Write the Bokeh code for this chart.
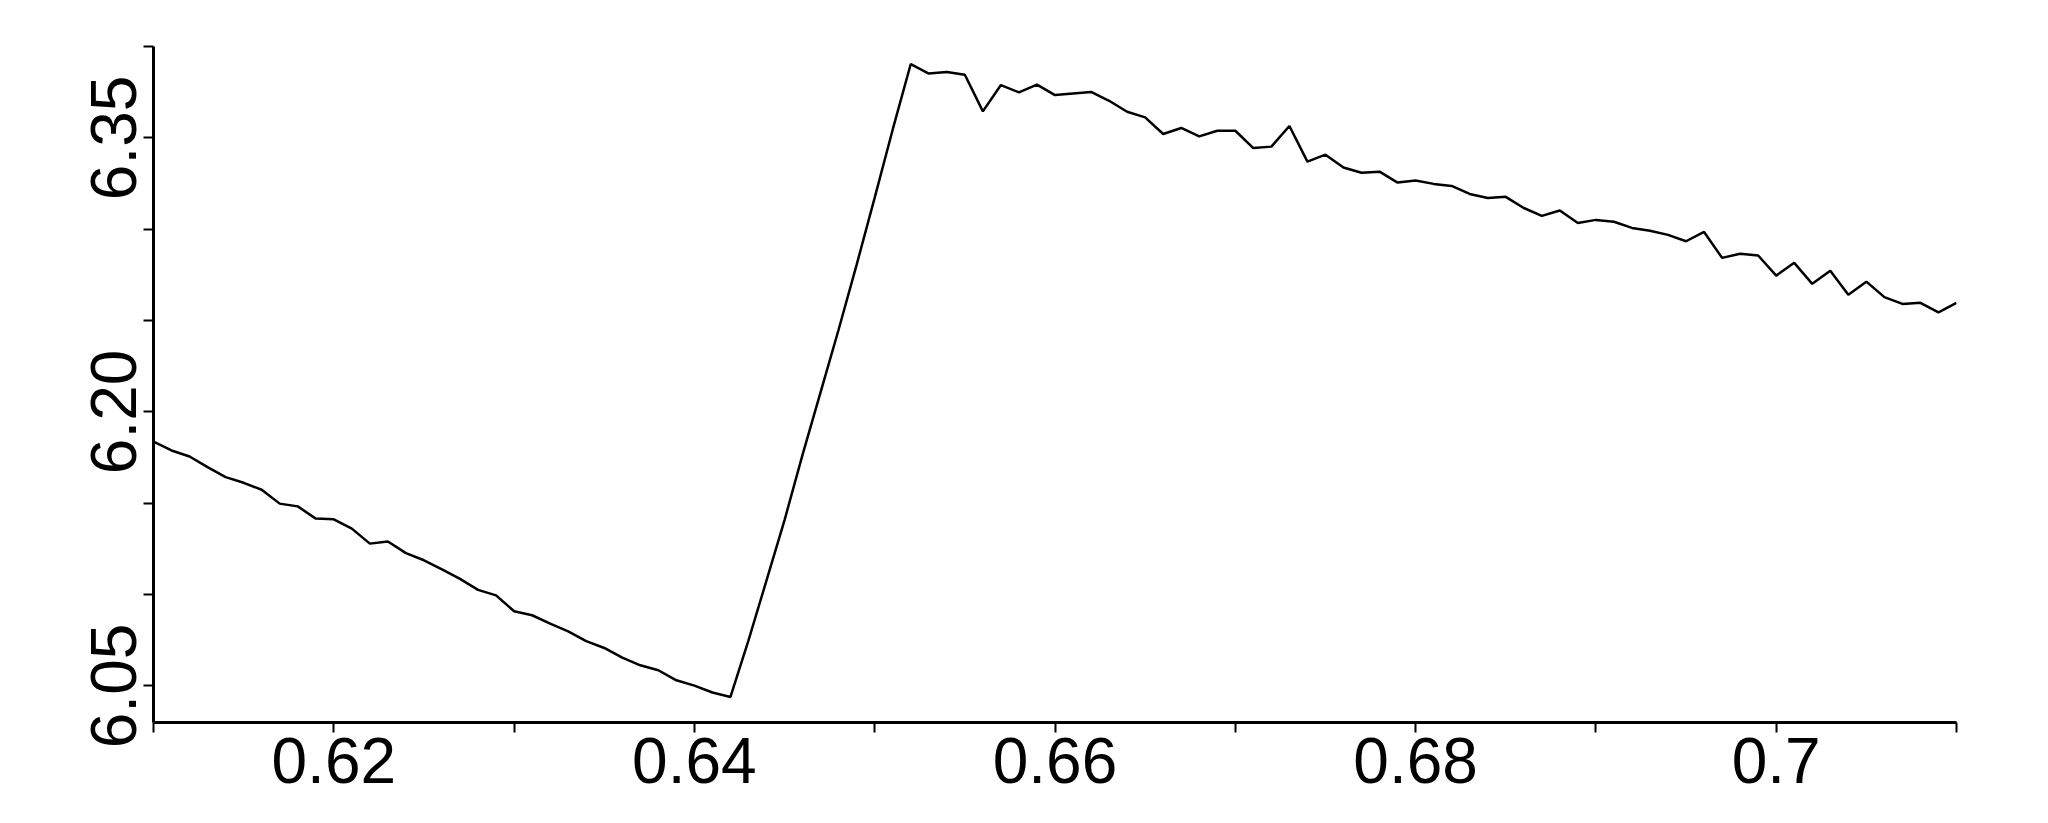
from bokeh.plotting import figure
from bokeh.models import Range1d, FixedTicker, CustomJSTickFormatter
from bokeh.embed import file_html
from bokeh.resources import INLINE

# ---- data ----
x_vals = [
    0.610, 0.611, 0.612, 0.613, 0.614, 0.615, 0.616, 0.617, 0.618, 0.619,
    0.620, 0.621, 0.622, 0.623, 0.624, 0.625, 0.626, 0.627, 0.628, 0.629,
    0.630, 0.631, 0.632, 0.633, 0.634, 0.635, 0.636, 0.637, 0.638, 0.639,
    0.640, 0.641, 0.642, 0.643, 0.644, 0.645, 0.646, 0.647, 0.648, 0.649,
    0.650, 0.651, 0.652, 0.653, 0.654, 0.655, 0.656, 0.657, 0.658, 0.659,
    0.660, 0.661, 0.662, 0.663, 0.664, 0.665, 0.666, 0.667, 0.668, 0.669,
    0.670, 0.671, 0.672, 0.673, 0.674, 0.675, 0.676, 0.677, 0.678, 0.679,
    0.680, 0.681, 0.682, 0.683, 0.684, 0.685, 0.686, 0.687, 0.688, 0.689,
    0.690, 0.691, 0.692, 0.693, 0.694, 0.695, 0.696, 0.697, 0.698, 0.699,
    0.700, 0.701, 0.702, 0.703, 0.704, 0.705, 0.706, 0.707, 0.708, 0.709,
    0.710,
]
y_vals = [
    6.1838, 6.1789, 6.1756, 6.1698, 6.1643, 6.1612, 6.1574, 6.1498, 6.1483, 6.1416,
    6.1412, 6.1361, 6.1279, 6.1291, 6.1227, 6.1188, 6.1138, 6.1086, 6.1026, 6.0996,
    6.0909, 6.0887, 6.0841, 6.0799, 6.0745, 6.0708, 6.0655, 6.0613, 6.0586, 6.0531,
    6.0502, 6.0464, 6.0440, 6.0750, 6.1078, 6.1408, 6.1766, 6.2108, 6.2451, 6.2806,
    6.3173, 6.3546, 6.3904, 6.3852, 6.3860, 6.3845, 6.3645, 6.3789, 6.3749, 6.3791,
    6.3734, 6.3743, 6.3751, 6.3703, 6.3643, 6.3612, 6.3521, 6.3554, 6.3508, 6.3539,
    6.3539, 6.3444, 6.3452, 6.3565, 6.3370, 6.3408, 6.3338, 6.3309, 6.3315, 6.3255,
    6.3266, 6.3248, 6.3237, 6.3193, 6.3171, 6.3177, 6.3116, 6.3073, 6.3102, 6.3034,
    6.3051, 6.3041, 6.3007, 6.2992, 6.2969, 6.2934, 6.2985, 6.2843, 6.2866, 6.2856,
    6.2746, 6.2816, 6.2701, 6.2772, 6.2641, 6.2713, 6.2628, 6.2591, 6.2597, 6.2545,
    6.2597,
]

x_major_ticks = [0.62, 0.64, 0.66, 0.68, 0.70]
x_minor_ticks = [0.61, 0.63, 0.65, 0.67, 0.69, 0.71]
y_major_ticks = [6.05, 6.20, 6.35]
y_minor_ticks = [6.10, 6.15, 6.25, 6.30, 6.40]

FONT = "Liberation Sans"

p = figure(
    width=2032, height=815,
    x_range=Range1d(0.61, 0.71), y_range=Range1d(6.03, 6.40),
    output_backend="svg", toolbar_location=None,
    min_border_left=153, min_border_right=76,
    min_border_top=46, min_border_bottom=93,
)
p.grid.visible = False
p.outline_line_color = None
p.background_fill_color = "white"
p.border_fill_color = "white"

p.line(x_vals, y_vals, line_color="black", line_width=2.5)

p.xaxis.ticker = FixedTicker(ticks=x_major_ticks, minor_ticks=x_minor_ticks)
p.yaxis.ticker = FixedTicker(ticks=y_major_ticks, minor_ticks=y_minor_ticks)
p.xaxis.formatter = CustomJSTickFormatter(code="return String(Math.round(tick*100)/100);")
p.yaxis.formatter = CustomJSTickFormatter(code="return tick.toFixed(2);")

for ax in (p.xaxis[0], p.yaxis[0]):
    ax.axis_line_color = "black"
    ax.axis_line_width = 3
    ax.major_tick_line_color = "black"
    ax.minor_tick_line_color = "black"
    ax.major_tick_line_width = 2
    ax.minor_tick_line_width = 2
    ax.major_tick_out = 10
    ax.major_tick_in = 0
    ax.minor_tick_out = 10
    ax.minor_tick_in = 0
    ax.major_label_text_font = FONT
    ax.major_label_text_font_size = "64px"
    ax.major_label_text_color = "black"

p.xaxis.major_label_standoff = 5
p.yaxis.major_label_standoff = 7
p.yaxis.major_label_orientation = "vertical"

open("out.html", "w").write(file_html(p, INLINE))
